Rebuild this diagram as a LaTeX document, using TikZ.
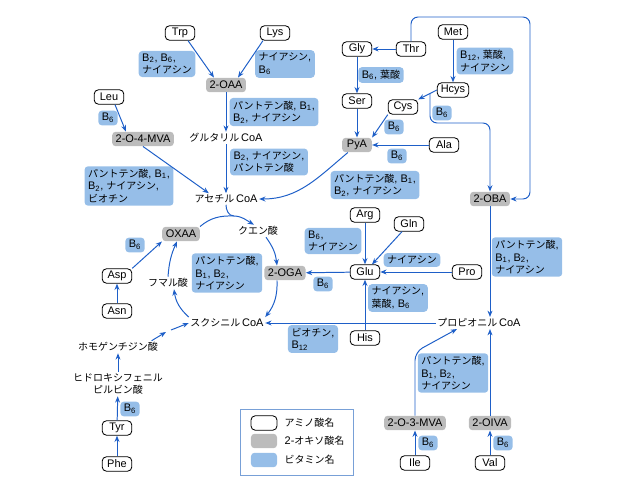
\documentclass[tikz,border=0pt]{standalone}
\usepackage{fontspec}
\setmainfont{Liberation Sans}
\newfontfamily\latfont{Liberation Sans}
\newfontfamily\jpfont{Noto Sans CJK JP}[Scale=0.91]
\usetikzlibrary{arrows.meta}
\definecolor{pathblue}{RGB}{30,95,200}
\definecolor{vitblue}{RGB}{150,190,232}
\definecolor{oxogray}{RGB}{188,188,188}
\definecolor{legblue}{RGB}{120,160,215}
\newcommand{\Bn}[1]{B\textsubscript{#1}}

% Japanese characters in the CJK font, the rest in Liberation Sans
\XeTeXinterchartokenstate=1
\newXeTeXintercharclass\jpclass
\newcount\jpc
\jpc="3000 \loop \XeTeXcharclass\jpc=\jpclass \advance\jpc by 1 \ifnum\jpc<"3100 \repeat
\jpc="4E00 \loop \XeTeXcharclass\jpc=\jpclass \advance\jpc by 1 \ifnum\jpc<"A000 \repeat
\jpc="FF00 \loop \XeTeXcharclass\jpc=\jpclass \advance\jpc by 1 \ifnum\jpc<"FFF0 \repeat
\XeTeXinterchartoks 0 \jpclass = {\jpfont}
\XeTeXinterchartoks 4095 \jpclass = {\jpfont}
\XeTeXinterchartoks \jpclass 0 = {\latfont}
\XeTeXinterchartoks \jpclass 4095 = {\latfont}

\begin{document}
\begin{tikzpicture}[x=0.025cm, y=-0.025cm, >={Stealth[length=4.5pt, width=3.5pt]},
  font=\fontsize{7.8}{8.9}\selectfont,
  amino/.style={draw, line width=0.6pt, rounded corners=3pt, fill=white, minimum width=7.4mm, minimum height=3.6mm, inner xsep=2.5pt, inner ysep=1pt},
  oxo/.style={fill=oxogray, rounded corners=2.5pt, minimum width=7.4mm, minimum height=3.6mm, inner xsep=2.5pt, inner ysep=1pt},
  vit/.style={fill=vitblue, rounded corners=2.5pt, align=left, inner xsep=2.5pt, inner ysep=2pt},
  term/.style={inner sep=1pt, align=center},
  link/.style={->, draw=pathblue, line width=0.7pt}]

  \useasboundingbox (0,0) rectangle (640,500);

  % upper left
  \node[amino] (trp) at (180,33) {Trp};
  \node[amino] (lys) at (275,33) {Lys};
  \node[vit] (vtrp) at (167,64) {\Bn2, \Bn6,\\ナイアシン};
  \node[vit] (vlys) at (285,64) {ナイアシン,\\\Bn6};
  \node[oxo] (oaa) at (226,85) {2-OAA};
  \node[vit] (voaa) at (274,112) {パントテン酸, \Bn1,\\\Bn2, ナイアシン};
  \node[term] (glcoa) at (226,138) {グルタリル\,CoA};
  \node[vit] (vglcoa) at (269,162) {\Bn2, ナイアシン,\\パントテン酸};
  \node[term] (accoa) at (226,199) {アセチル\,CoA};
  \node[amino] (leu) at (109,97) {Leu};
  \node[vit] (vleu) at (108,118) {\Bn6};
  \node[oxo] (mvaf) at (143,139) {2-O-4-MVA};
  \node[vit] (vmvaf) at (129,186) {パントテン酸, \Bn1,\\\Bn2, ナイアシン,\\ビオチン};

  % upper right
  \node[amino] (thr) at (411,49) {Thr};
  \node[amino] (gly) at (357,49) {Gly};
  \node[amino] (met) at (453,32) {Met};
  \node[vit] (vmet) at (485,61) {\Bn{12}, 葉酸,\\ナイアシン};
  \node[amino] (hcys) at (453,90) {Hcys};
  \node[vit] (vgly) at (381,75) {\Bn6, 葉酸};
  \node[amino] (ser) at (357,101) {Ser};
  \node[amino] (cys) at (403,107) {Cys};
  \node[vit] (vhcys) at (442,113) {\Bn6};
  \node[vit] (vcys) at (394,127) {\Bn6};
  \node[oxo] (pya) at (357,145) {PyA};
  \node[amino] (ala) at (444,145) {Ala};
  \node[vit] (vala) at (397,156) {\Bn6};
  \node[vit] (vpya) at (375,185) {パントテン酸, \Bn1,\\\Bn2, ナイアシン};
  \node[oxo] (oba) at (490,199) {2-OBA};
  \node[vit] (voba) at (527,257) {パントテン酸,\\\Bn1, \Bn2,\\ナイアシン};

  % center
  \node[amino] (arg) at (365,215) {Arg};
  \node[amino] (gln) at (409,224) {Gln};
  \node[vit] (varg) at (333,241) {\Bn6,\\ナイアシン};
  \node[amino] (glu) at (365,272) {Glu};
  \node[amino] (pro) at (467,272) {Pro};
  \node[vit] (vpro) at (412,260) {ナイアシン};
  \node[oxo] (oga) at (285,273) {2-OGA};
  \node[vit] (vglu) at (323,284) {\Bn6};
  \node[vit] (vhis) at (398,298) {ナイアシン,\\葉酸, \Bn6};
  \node[amino] (his) at (365,338) {His};
  \node[term] (prcoa) at (479,323) {プロピオニル\,CoA};
  \node[term] (sccoa) at (227,323) {スクシニル\,CoA};
  \node[vit] (vprcoa) at (313,339) {ビオチン,\\\Bn{12}};

  % TCA cycle and left side
  \node[oxo] (oxaa) at (181,234) {OXAA};
  \node[term] (cit) at (258,231) {クエン酸};
  \node[term] (fum) at (168,283) {フマル酸};
  \node[vit] (vtca) at (227,273) {パントテン酸,\\\Bn1, \Bn2,\\ナイアシン};
  \node[amino] (asp) at (117,276) {Asp};
  \node[amino] (asn) at (117,311) {Asn};
  \node[vit] (vasp) at (135,245) {\Bn6};
  \node[term] (hga) at (118,347) {ホモゲンチジン酸};
  \node[term] (hpp) at (118,384) {ヒドロキシフェニル\\ピルビン酸};
  \node[vit] (vtyr) at (130,409) {\Bn6};
  \node[amino] (tyr) at (117,428) {Tyr};
  \node[amino] (phe) at (117,464) {Phe};

  % lower right
  \node[vit] (vmvat) at (453,373) {パントテン酸,\\\Bn1, \Bn2,\\ナイアシン};
  \node[oxo] (mvat) at (415,423) {2-O-3-MVA};
  \node[oxo] (oiva) at (490,423) {2-OIVA};
  \node[vit] (vile) at (428,443) {\Bn6};
  \node[vit] (vval) at (503,443) {\Bn6};
  \node[amino] (ile) at (415,463) {Ile};
  \node[amino] (val) at (490,463) {Val};

  % legend
  \draw[legblue, line width=0.5pt] (240,409) rectangle (353,475);
  \node[amino, minimum width=6.5mm] (lgamino) at (264,423) {};
  \node[oxo, minimum width=6.5mm] (lgoxo) at (264,441) {};
  \node[vit, minimum width=6.5mm, minimum height=3.6mm] (lgvit) at (264,460) {};
  \node[term, anchor=west] at (283,423) {アミノ酸名};
  \node[term, anchor=west] at (283,441) {2-オキソ酸名};
  \node[term, anchor=west] at (283,460) {ビタミン名};

  % helper points
  \coordinate (thrtop) at (530,17);
  \coordinate (hbr) at (430,94);
  \coordinate (hdown) at (430,123);
  \coordinate (join) at (234,216);
  \coordinate (hmid) at (166,332);
  \coordinate (hmidb) at (171,330);
  \coordinate (mvbend) at (415,352);

  % connectors
  \draw[link] ([xshift=2mm]trp.south) -- ([xshift=-3mm]oaa.north);
  \draw[link] ([xshift=-3mm]lys.south) -- ([xshift=3mm]oaa.north);
  \draw[link] (oaa) -- (glcoa);
  \draw[link] (glcoa) -- (accoa);
  \draw[link] ([xshift=1.5mm]leu.south) -- ([xshift=3.5mm]mvaf.north west);
  \draw[link] (mvaf.south) -- ([xshift=4mm]accoa.north west);
  \draw[link] ([xshift=1.5mm]pya.south west) to[out=-140, in=0] (accoa.east);

  \draw[link] (thr) -- (gly);
  \draw[link, rounded corners=5pt] (thr.north) |- (thrtop) |- (oba.east);
  \draw[link] (met) -- (hcys);
  \draw[link] (hcys.west) -- (cys.north east);
  \draw[link, rounded corners=5pt] (hbr) -- (hdown) -| (oba.north);
  \draw[link] (gly) -- (ser);
  \draw[link] (ser) -- (pya);
  \draw[link] (cys.south west) -- (pya.north east);
  \draw[link] (ala) -- (pya);
  \draw[link] (oba) -- (oba |- prcoa.north);

  \draw[link] (arg) -- (glu);
  \draw[link] (gln) -- (glu);
  \draw[link] (pro) -- (glu);
  \draw[link] (glu) -- (oga);
  \draw[link] (his) -- (glu);
  \draw[link] (prcoa) -- (sccoa);

  \draw[draw=pathblue, line width=0.7pt] (accoa.south) to[out=-90, in=180] (join);
  \draw[link] (oxaa.north east) to[out=40, in=178] (join) to[out=-2, in=150] ([xshift=-1mm]cit.north);
  \draw[link] ([xshift=2mm]cit.south) to[bend left=15] ([xshift=-2mm]oga.north);
  \draw[link] ([xshift=-2mm]oga.south) to[bend left=20] (sccoa.north east);
  \draw[link] (sccoa.north west) to[bend left=20] ([xshift=1.5mm]fum.south);
  \draw[link] (fum.north) to[bend left=10] ([xshift=-1mm]oxaa.south);

  \draw[link] (asn) -- (asp);
  \draw[link] (asp.north east) -- (oxaa.south west);
  \draw[link] ([xshift=-2mm]hga.north east) -- (hmid);
  \draw[link] (hmidb) -- (sccoa.west);
  \draw[link] (hpp) -- (hga);
  \draw[link] (tyr) -- (hpp);
  \draw[link] (phe) -- (tyr);

  \draw[link] (ile) -- (mvat);
  \draw[link] (val) -- (oiva);
  \draw[link, rounded corners=6pt] (mvat) -- (mvbend) -- ([xshift=-5.5mm]prcoa.south);
  \draw[link] (oiva) -- (oiva |- prcoa.south);
\end{tikzpicture}
\end{document}
